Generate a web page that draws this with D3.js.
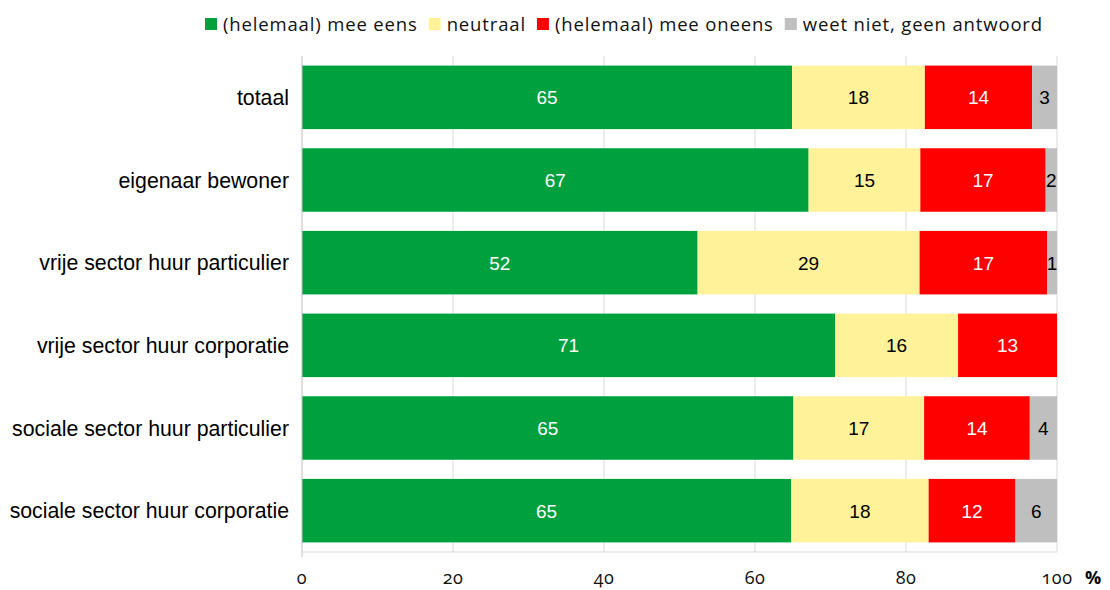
<!DOCTYPE html>
<html>
<head>
<meta charset="utf-8">
<script src="https://cdn.jsdelivr.net/npm/d3@7"></script>
<style>
  body { margin: 0; background: #fff; }
  svg text { font-family: "Liberation Sans", Arial, sans-serif; }
</style>
</head>
<body>
<script>
'use strict';

// categories (top to bottom)
var categories = [
  "totaal",
  "eigenaar bewoner",
  "vrije sector huur particulier",
  "vrije sector huur corporatie",
  "sociale sector huur particulier",
  "sociale sector huur corporatie"
];

// series values, percentages
var eens     = [64.9, 67.1, 52.4, 70.6, 65.1, 64.8];
var neutraal = [17.6, 14.8, 29.4, 16.3, 17.3, 18.2];
var oneens   = [14.2, 16.6, 16.9, 13.1, 14.0, 11.5];
var weetNiet = [3.3, 1.5, 1.3, 0, 3.6, 5.5];

var seriesNames = ["(helemaal) mee eens", "neutraal", "(helemaal) mee oneens", "weet niet, geen antwoord"];
var seriesColors = ["#00a03e", "#fff299", "#ff0000", "#bfbfbf"];
var labelColors = ["#fff", "#000", "#fff", "#000"];

var xTicks = [0, 20, 40, 60, 80, 100];

var width = 1110;
var height = 590;
var margin = { top: 56, right: 53, bottom: 38, left: 302 };

var svg = d3.select("body")
  .append("svg")
  .attr("width", width)
  .attr("height", height);

var x = d3.scaleLinear()
  .domain([0, 100])
  .range([margin.left, width - margin.right]);

var y = d3.scaleBand()
  .domain(categories)
  .range([margin.top, height - margin.bottom])
  .paddingInner(0.232)
  .paddingOuter(0.116);

// gridlines
svg.append("g")
  .selectAll("line")
  .data(xTicks.slice(1))
  .enter()
  .append("line")
  .attr("x1", function (d) { return x(d); })
  .attr("x2", function (d) { return x(d); })
  .attr("y1", margin.top)
  .attr("y2", height - margin.bottom)
  .style("stroke", "#d9d9d9")
  .style("stroke-width", 1);

// stack the series
var rows = categories.map(function (c, i) {
  return { cat: c, s0: eens[i], s1: neutraal[i], s2: oneens[i], s3: weetNiet[i] };
});
var stack = d3.stack().keys(["s0", "s1", "s2", "s3"]);
var stacked = stack(rows);

var layers = svg.append("g")
  .selectAll("g")
  .data(stacked)
  .enter()
  .append("g")
  .style("fill", function (d, i) { return seriesColors[i]; });

layers.selectAll("rect")
  .data(function (d) { return d; })
  .enter()
  .append("rect")
  .attr("x", function (d) { return x(d[0]); })
  .attr("y", function (d) { return y(d.data.cat); })
  .attr("width", function (d) { return x(d[1]) - x(d[0]); })
  .attr("height", y.bandwidth());

// value labels
stacked.forEach(function (layer, i) {
  svg.append("g")
    .selectAll("text")
    .data(layer.filter(function (d) { return d[1] - d[0] > 0; }))
    .enter()
    .append("text")
    .attr("x", function (d) { return (x(d[0]) + x(d[1])) / 2; })
    .attr("y", function (d) { return y(d.data.cat) + y.bandwidth() / 2; })
    .attr("dy", "0.36em")
    .attr("text-anchor", "middle")
    .style("font-size", "19px")
    .style("fill", labelColors[i])
    .text(function (d) { return Math.round(d[1] - d[0]); });
});

// axes lines
svg.append("line")
  .attr("x1", margin.left).attr("x2", margin.left)
  .attr("y1", margin.top).attr("y2", height - margin.bottom + 5)
  .style("stroke", "#bfbfbf");
svg.append("line")
  .attr("x1", margin.left).attr("x2", width - margin.right)
  .attr("y1", height - margin.bottom).attr("y2", height - margin.bottom)
  .style("stroke", "#d9d9d9");

// x tick labels
svg.append("g")
  .selectAll("text")
  .data(xTicks)
  .enter()
  .append("text")
  .attr("x", function (d) { return x(d); })
  .attr("y", 584)
  .attr("text-anchor", "middle")
  .style("font-family", "'Open Sans', sans-serif")
  .style("font-variant-numeric", "oldstyle-nums")
  .style("font-feature-settings", "'onum' 1")
  .style("font-size", "18px")
  .style("letter-spacing", "0.5px")
  .style("fill", "#111")
  .text(function (d) { return d; });

svg.append("text")
  .attr("x", 1093)
  .attr("y", 584)
  .attr("text-anchor", "middle")
  .style("font-family", "'Open Sans', sans-serif")
  .style("font-weight", "bold")
  .style("font-size", "18px")
  .text("%");

// category labels
svg.append("g")
  .selectAll("text")
  .data(categories)
  .enter()
  .append("text")
  .attr("x", 289)
  .attr("y", function (d) { return y(d) + y.bandwidth() / 2; })
  .attr("dy", "0.36em")
  .attr("text-anchor", "end")
  .style("font-size", "21.3px")
  .style("fill", "#000")
  .text(function (d) { return d; });

// legend
var legend = svg.append("g");
var lx = 205;
seriesNames.forEach(function (name, i) {
  legend.append("rect")
    .attr("x", lx)
    .attr("y", 18)
    .attr("width", 12)
    .attr("height", 12)
    .style("fill", seriesColors[i]);
  var t = legend.append("text")
    .attr("x", lx + 18)
    .attr("y", 31)
    .style("font-family", "'Open Sans', sans-serif")
    .style("font-size", "18.5px")
    .style("letter-spacing", "0.85px")
    .style("fill", "#111")
    .text(name);
  lx += 18 + t.node().getComputedTextLength() + 11;
});
</script>
</body>
</html>
